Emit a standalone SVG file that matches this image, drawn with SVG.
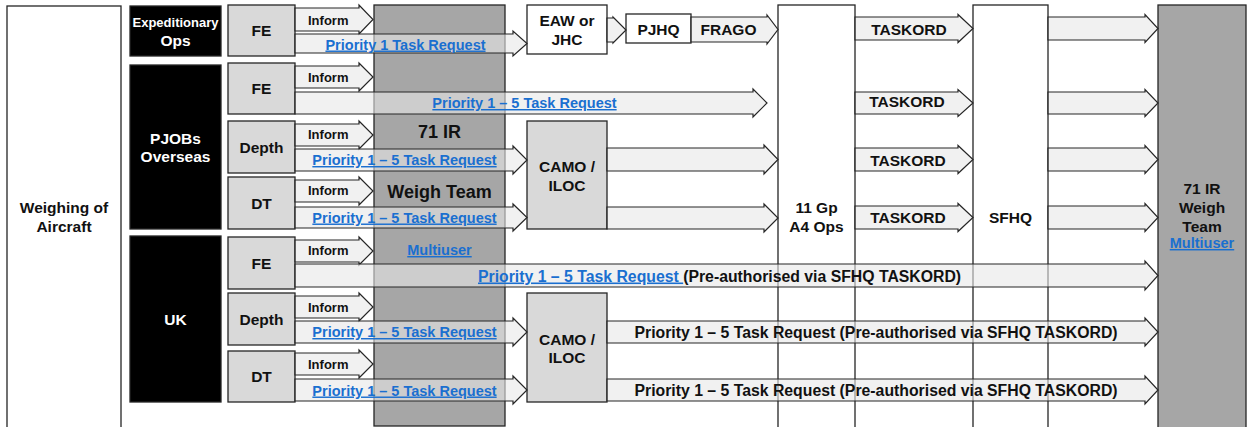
<svg xmlns="http://www.w3.org/2000/svg" width="1249" height="427" viewBox="0 0 1249 427">
<style>
.b{stroke:#262626;stroke-width:1.3}
.lt{fill:#d9d9d9}
.bk{fill:#000}
.gr{fill:#a6a6a6}
.wh{fill:#fff}
.arr{fill:#e8e8e8;fill-opacity:0.6;stroke:#262626;stroke-width:1.2}
text{font-family:"Liberation Sans",Arial,sans-serif;font-weight:bold;fill:#111;font-size:15.5px}
.w{fill:#fff}
.c{text-anchor:middle}
.s{font-size:13px}
.p{font-size:14.5px}
.big{font-size:18px}
.lg{font-size:15.8px}
.lnk{fill:#1a6fd0;text-decoration:underline}
</style>
<rect width="1249" height="427" fill="#fff"/>
<g id="weighing">
<rect class="b wh" x="7" y="6" width="114" height="430"/>
<text class="c" x="64" y="213">Weighing of</text>
<text class="c" x="64" y="232">Aircraft</text>
</g>
<g id="expeditionary">
<rect class="b bk" x="130" y="6" width="91" height="50"/>
<text class="c w s" x="175.5" y="27">Expeditionary</text>
<text class="c w" x="175.5" y="46">Ops</text>
</g>
<g id="pjobs">
<rect class="b bk" x="130" y="65" width="91" height="164"/>
<text class="c w" x="175.5" y="144">PJOBs</text>
<text class="c w" x="175.5" y="162">Overseas</text>
</g>
<g id="uk">
<rect class="b bk" x="130" y="236" width="91" height="166"/>
<text class="c w" x="175.5" y="325">UK</text>
</g>
<g id="fe1"><rect class="b lt" x="228" y="5" width="67" height="51"/><text class="c" x="261.5" y="36">FE</text></g>
<g id="fe2"><rect class="b lt" x="228" y="63" width="67" height="51"/><text class="c" x="261.5" y="94">FE</text></g>
<g id="depth1"><rect class="b lt" x="228" y="121" width="67" height="52"/><text class="c" x="261.5" y="152.5">Depth</text></g>
<g id="dt1"><rect class="b lt" x="228" y="177" width="67" height="52"/><text class="c" x="261.5" y="208.5">DT</text></g>
<g id="fe3"><rect class="b lt" x="228" y="237" width="67" height="52"/><text class="c" x="261.5" y="268.5">FE</text></g>
<g id="depth2"><rect class="b lt" x="228" y="293" width="67" height="52"/><text class="c" x="261.5" y="324.5">Depth</text></g>
<g id="dt2"><rect class="b lt" x="228" y="351" width="67" height="51"/><text class="c" x="261.5" y="382">DT</text></g>
<g id="ir71team">
<rect class="b gr" x="374" y="5" width="131" height="421"/>
<text class="c big" x="439.5" y="138">71 IR</text>
<text class="c big" x="439.5" y="198">Weigh Team</text>
<text class="c lnk p" x="439.5" y="255">Multiuser</text>
</g>
<g id="eaw">
<rect class="b wh" x="527" y="5" width="80" height="49"/>
<text class="c" x="567" y="26">EAW or</text>
<text class="c" x="567" y="45">JHC</text>
</g>
<g id="pjhq">
<rect class="b wh" x="626" y="14" width="65" height="29"/>
<text class="c" x="658.5" y="35">PJHQ</text>
</g>
<g id="camo1">
<rect class="b lt" x="527" y="121" width="80" height="108"/>
<text class="c" x="567" y="172">CAMO /</text>
<text class="c" x="567" y="191">ILOC</text>
</g>
<g id="camo2">
<rect class="b lt" x="527" y="293" width="80" height="109"/>
<text class="c" x="567" y="345">CAMO /</text>
<text class="c" x="567" y="363">ILOC</text>
</g>
<g id="gp11">
<rect class="b wh" x="778" y="5" width="77" height="430"/>
<text class="c" x="816.5" y="213">11 Gp</text>
<text class="c" x="816.5" y="232">A4 Ops</text>
</g>
<g id="sfhq">
<rect class="b wh" x="973" y="5" width="75" height="430"/>
<text class="c" x="1010.5" y="223">SFHQ</text>
</g>
<g id="ir71right">
<rect class="b gr" x="1158" y="5" width="88" height="430"/>
<text class="c" x="1202" y="194">71 IR</text>
<text class="c" x="1202" y="213">Weigh</text>
<text class="c" x="1202" y="232">Team</text>
<text class="c lnk p" x="1202" y="248">Multiuser</text>
</g>
<g id="connectors">
<path class="arr" d="M295,8H359V5L373,19.5L359,34V31H295Z"/>
<path class="arr" d="M295,66H359V63L373,77L359,91V88H295Z"/>
<path class="arr" d="M295,124H359V121L373,135L359,149V146H295Z"/>
<path class="arr" d="M295,180H359V177L373,191L359,205V202H295Z"/>
<path class="arr" d="M295,240H359V237L373,251L359,265V262H295Z"/>
<path class="arr" d="M295,296H359V293L373,307L359,321V318H295Z"/>
<path class="arr" d="M295,353H359V350L373,364L359,378V375H295Z"/>
<path class="arr" d="M295,34H513V31L527,43.5L513,56V53H295Z"/>
<path class="arr" d="M295,92H753V89L767,103L753,117V114H295Z"/>
<path class="arr" d="M295,149H513V146L527,160L513,174V171H295Z"/>
<path class="arr" d="M295,207H513V204L527,217.5L513,231V228H295Z"/>
<path class="arr" d="M295,264H1145V261L1158,275.5L1145,290V287H295Z"/>
<path class="arr" d="M295,321H513V318L527,332L513,346V343H295Z"/>
<path class="arr" d="M295,379H513V376L527,390L513,404V401H295Z"/>
<path class="arr" d="M607,148H764V145L778,159.5L764,174V171H607Z"/>
<path class="arr" d="M607,207H764V204L778,218L764,232V229H607Z"/>
<path class="arr" d="M607,321H1145V318L1158,332L1145,346V343H607Z"/>
<path class="arr" d="M607,379H1145V376L1158,390L1145,404V401H607Z"/>
<path class="arr" d="M607,18H613V17L626,30L613,43V42H607Z"/>
<path class="arr" d="M691,17H767V15L778,29.5L767,44V42H691Z"/>
<path class="arr" d="M855,17H958V14.5L973,28.5L958,42.5V40H855Z"/>
<path class="arr" d="M855,92H958V89.5L973,103L958,116.5V114H855Z"/>
<path class="arr" d="M855,148H958V145.5L973,159.5L958,173.5V171H855Z"/>
<path class="arr" d="M855,206H958V203.5L973,217.5L958,231.5V229H855Z"/>
<path class="arr" d="M1048,17H1145V14.5L1158,28.5L1145,42.5V40H1048Z"/>
<path class="arr" d="M1048,92H1145V89.5L1158,103L1145,116.5V114H1048Z"/>
<path class="arr" d="M1048,148H1145V145.5L1158,159.5L1145,173.5V171H1048Z"/>
<path class="arr" d="M1048,206H1145V203.5L1158,217.5L1145,231.5V229H1048Z"/>
<text class="s" x="308" y="25">Inform</text>
<text class="s" x="308" y="82">Inform</text>
<text class="s" x="308" y="139">Inform</text>
<text class="s" x="308" y="195">Inform</text>
<text class="s" x="308" y="255">Inform</text>
<text class="s" x="308" y="312">Inform</text>
<text class="s" x="308" y="369">Inform</text>
<text class="c p lnk" x="405.5" y="49.5">Priority 1 Task Request</text>
<text class="c p lnk" x="524.5" y="108">Priority 1 – 5 Task Request</text>
<text class="c p lnk" x="404.5" y="165">Priority 1 – 5 Task Request</text>
<text class="c p lnk" x="404.5" y="222.5">Priority 1 – 5 Task Request</text>
<text class="lg" x="478" y="281.5"><tspan class="lnk">Priority 1 – 5 Task Request </tspan><tspan>(Pre-authorised via SFHQ TASKORD)</tspan></text>
<text class="c p lnk" x="404.5" y="337">Priority 1 – 5 Task Request</text>
<text class="c p lnk" x="404.5" y="395.5">Priority 1 – 5 Task Request</text>
<text class="c lg" x="876" y="337.5">Priority 1 – 5 Task Request (Pre-authorised via SFHQ TASKORD)</text>
<text class="c lg" x="876" y="395.5">Priority 1 – 5 Task Request (Pre-authorised via SFHQ TASKORD)</text>
<text class="c" x="728.5" y="35">FRAGO</text>
<text class="c" x="909" y="35">TASKORD</text>
<text class="c" x="907" y="107">TASKORD</text>
<text class="c" x="908" y="166">TASKORD</text>
<text class="c" x="908" y="223">TASKORD</text>
</g>
</svg>
